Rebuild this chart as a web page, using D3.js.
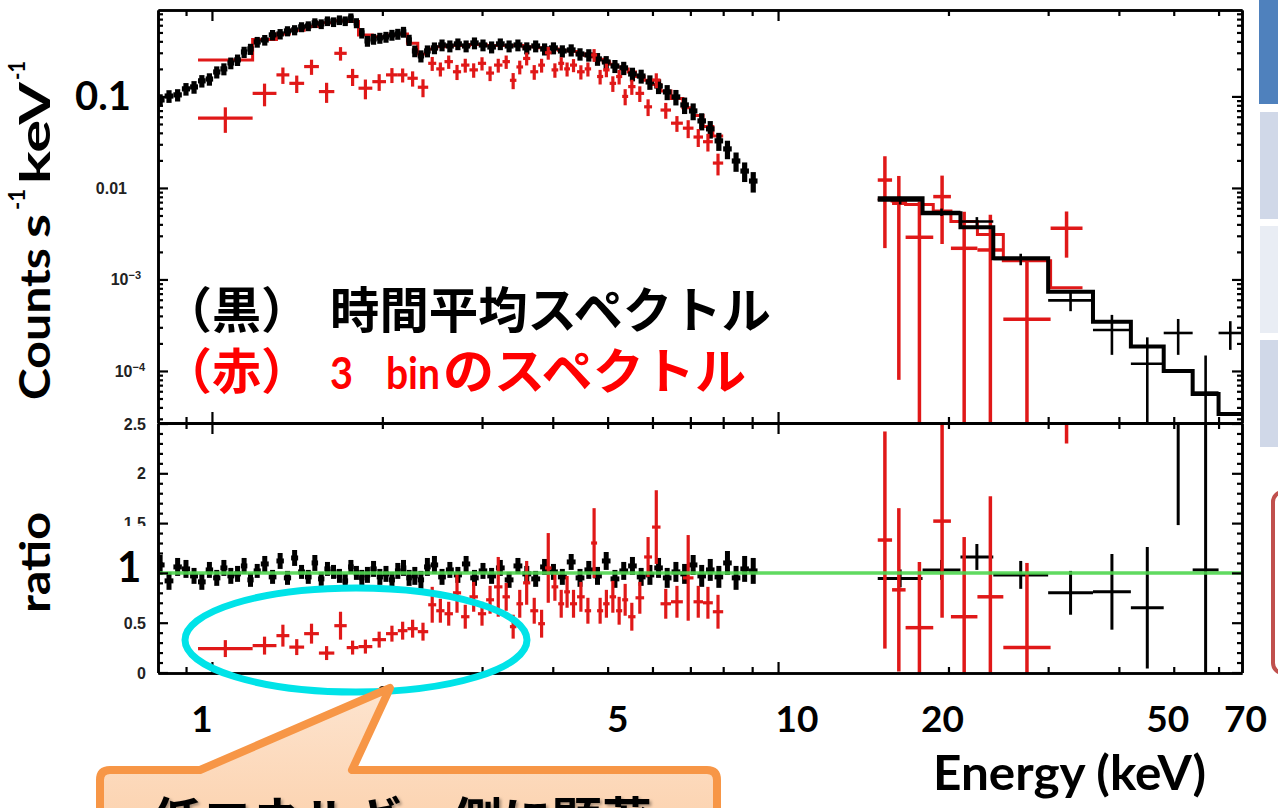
<!DOCTYPE html>
<html><head><meta charset="utf-8">
<script src="https://cdn.jsdelivr.net/npm/d3@7"></script>
<style>
html,body{margin:0;padding:0;background:#fff;}
svg{display:block;}
</style></head><body>
<svg id="chart" width="1278" height="808"></svg>
<script>
// ---------- time-averaged spectrum (black), 0.8-9 keV ----------
const blackSoftE = [0.81,0.84,0.87,0.90,0.93,0.96,0.99,1.02,1.05,1.08,1.11,1.14,1.17,1.20,1.24,1.28,1.32,1.36,1.40,1.44,1.48,1.52,1.56,1.60,1.64,1.68,1.72,1.76,1.80,1.84,1.88,1.93,1.98,2.03,2.08,2.13,2.18,2.23,2.28,2.34,2.40,2.47,2.55,2.63,2.72,2.81,2.91,3.01,3.12,3.23,3.35,3.47,3.60,3.73,3.87,4.01,4.16,4.31,4.47,4.63,4.80,4.97,5.15,5.34,5.53,5.73,5.94,6.15,6.37,6.60,6.84,7.08,7.33,7.59,7.86,8.14,8.43,8.73,9.04];
const blackSoftCounts = [0.0916,0.101,0.104,0.121,0.127,0.148,0.155,0.185,0.200,0.232,
  0.251,0.306,0.330,0.394,0.414,0.470,0.482,0.519,0.533,0.575,
  0.589,0.636,0.620,0.668,0.652,0.685,0.668,0.721,0.636,0.494,
  0.404,0.425,0.436,0.447,0.470,0.482,0.507,0.414,0.314,0.277,
  0.314,0.339,0.365,0.356,0.375,0.356,0.384,0.365,0.347,0.375,
  0.356,0.365,0.339,0.356,0.330,0.339,0.314,0.322,0.291,0.284,
  0.257,0.238,0.215,0.205,0.176,0.167,0.144,0.130,0.112,0.0987,
  0.0807,0.0694,0.054,0.0442,0.0327,0.0267,0.0197,0.0153,0.0119];
const blackSoftErr = [0.014,0.016,0.016,0.019,0.020,0.023,0.024,0.028,0.030,0.034,
  0.036,0.043,0.046,0.053,0.055,0.062,0.063,0.066,0.068,0.072,
  0.073,0.078,0.076,0.081,0.079,0.083,0.081,0.087,0.080,0.065,
  0.055,0.058,0.060,0.061,0.064,0.066,0.069,0.058,0.046,0.042,
  0.047,0.050,0.054,0.053,0.055,0.053,0.057,0.054,0.052,0.055,
  0.053,0.054,0.051,0.053,0.050,0.051,0.048,0.049,0.045,0.044,
  0.041,0.038,0.035,0.034,0.030,0.029,0.026,0.024,0.021,0.019,
  0.0165,0.0145,0.0115,0.0096,0.0073,0.0061,0.0047,0.0037,0.0030];
const blackSoftRatio = [1.08,0.92,1.06,1.04,0.97,0.91,1.03,0.95,1.05,0.97,
  0.99,1.07,0.93,1.02,1.09,0.96,1.12,0.95,1.15,1.01,
  0.96,1.10,0.94,1.04,1.01,0.97,0.92,1.06,1.00,0.95,
  0.98,1.04,0.96,0.99,0.93,1.02,1.05,0.95,0.97,0.93,
  1.06,1.08,0.96,1.03,0.98,1.09,0.95,1.02,0.97,1.05,
  0.93,1.07,0.99,0.94,1.06,1.01,0.96,1.11,0.95,1.03,
  0.97,1.12,0.94,1.02,1.07,0.96,0.98,1.05,0.95,1.01,
  0.99,1.08,0.97,1.03,0.96,1.10,0.95,1.04,1.02];
const blackSoftRatioErr = [0.10,0.09,0.09,0.09,0.08,0.08,0.08,0.08,0.08,0.08,
  0.08,0.08,0.07,0.07,0.08,0.07,0.08,0.07,0.08,0.07,
  0.07,0.08,0.07,0.07,0.07,0.07,0.07,0.07,0.07,0.08,
  0.08,0.08,0.08,0.08,0.08,0.08,0.08,0.08,0.09,0.09,
  0.09,0.09,0.08,0.08,0.08,0.08,0.08,0.08,0.08,0.08,
  0.08,0.08,0.08,0.08,0.08,0.08,0.08,0.08,0.09,0.09,
  0.09,0.09,0.09,0.09,0.09,0.09,0.10,0.10,0.10,0.10,
  0.10,0.10,0.11,0.11,0.11,0.12,0.12,0.13,0.13];

// ---------- time-averaged spectrum (black), 15-66 keV ----------
const blackHardEdges = [15,18,21,24,30,36,42,48,54,60,66];
const blackHardCounts = [0.0073,0.00545,0.0043,0.00167,0.00059,0.00028,0.00012,0.00026,0.000058,0.00026];
const blackHardErr = [0.0007,0.0005,0.0005,0.00024,0.00014,0.00013,0.000113,0.00011,0.00009,0.00009];
const blackHardModel = [0.00772,0.00529,0.00372,0.0017,0.000736,0.000346,0.000185,0.0001,0.000056,0.0000339];
const blackHardRatio = [0.945,1.03,1.16,0.98,0.80,0.81,0.65,2.6,1.03,7.6];
const blackHardRatioErr = [0.09,0.10,0.13,0.14,0.22,0.38,0.61,1.12,1.6,3.0];

// ---------- 3-bin spectrum (red), 0.95-8 keV ----------
const redSoftEdges = [0.945,1.18,1.30,1.37,1.455,1.545,1.645,1.73,1.815,1.92,2.03,2.13,2.215,2.31,2.41,
  2.49,2.575,2.665,2.755,2.85,2.95,3.05,3.15,3.26,3.36,3.45,3.545,3.65,3.77,3.875,3.98,4.09,4.19,4.29,
  4.415,4.555,4.675,4.79,4.91,5.04,5.175,5.305,5.435,5.6,5.8,5.99,6.2,6.47,6.79,7.09,7.37,7.67,8.0];
const redSoftCounts = [0.058,0.108,0.172,0.139,0.212,0.113,0.296,0.165,0.123,0.145,0.172,0.172,0.158,0.126,
  0.23,0.20,0.24,0.186,0.22,0.195,0.23,0.18,0.22,0.24,0.15,0.21,0.26,0.186,0.22,0.30,0.195,0.23,0.20,0.22,
  0.186,0.20,0.284,0.165,0.195,0.139,0.165,0.10,0.128,0.108,0.077,0.151,0.071,0.051,0.045,0.036,0.032,0.0187];
const redSoftErr = [0.018,0.030,0.035,0.030,0.040,0.028,0.050,0.035,0.030,0.030,0.032,0.030,0.030,0.028,
  0.040,0.035,0.040,0.035,0.038,0.035,0.038,0.033,0.038,0.040,0.030,0.036,0.042,0.034,0.038,0.048,0.035,0.038,0.035,0.036,
  0.033,0.035,0.045,0.030,0.033,0.027,0.030,0.020,0.024,0.021,0.016,0.028,0.014,0.010,0.010,0.008,0.007,0.005];
const redSoftModel = [0.25,0.42,0.48,0.53,0.58,0.64,0.67,0.66,0.47,0.45,0.47,0.48,0.38,0.29,
  0.33,0.35,0.36,0.36,0.36,0.37,0.37,0.36,0.36,0.36,0.36,0.36,0.35,0.35,0.34,0.335,0.33,0.32,0.315,0.31,
  0.29,0.28,0.27,0.255,0.24,0.225,0.21,0.20,0.185,0.165,0.15,0.135,0.115,0.095,0.075,0.062,0.047,0.037];
const redSoftRatio = [0.24,0.27,0.37,0.255,0.39,0.195,0.47,0.25,0.26,0.33,0.39,0.42,0.44,0.41,
  0.68,0.62,0.59,0.80,0.56,0.76,0.59,0.73,0.86,0.76,0.46,0.69,0.90,0.62,0.49,1.05,0.86,0.69,0.81,0.69,
  0.76,0.62,1.30,0.62,0.69,0.76,0.62,0.73,0.56,0.75,1.16,1.46,0.69,0.71,0.95,0.71,0.70,0.61];
const redSoftRatioErr = [0.085,0.09,0.11,0.08,0.10,0.07,0.14,0.07,0.07,0.08,0.08,0.09,0.09,0.09,
  0.18,0.12,0.12,0.20,0.12,0.15,0.12,0.14,0.30,0.14,0.12,0.14,0.22,0.13,0.14,0.35,0.14,0.14,0.16,0.14,
  0.15,0.13,0.35,0.13,0.14,0.16,0.14,0.16,0.14,0.16,0.20,0.37,0.15,0.16,0.43,0.16,0.16,0.17];

// ---------- 3-bin spectrum (red), 15-35 keV ----------
const redHardEdges = [15.0,15.9,16.8,18.8,20.2,22.5,25.0,30.3,34.5];
const redHardCounts = [0.0122,0.0068,0.00289,0.00804,0.00219,0.0021,0.000367,0.00363];
const redHardErr = [0.0100,0.00672,0.0042,0.0056,0.0033,0.0030,0.0012,0.0019];
const redHardModel = [0.0075,0.0072,0.0066,0.0056,0.0043,0.0031,0.0016,0.00081];
const redHardRatio = [1.33,0.83,0.45,1.52,0.56,0.76,0.25,4.5];
const redHardRatioErr = [1.09,0.82,0.66,0.97,0.80,1.01,0.85,2.2];

// ---------- axis ticks and labels ----------
const energyMajorTicks = [1, 10];
const energyMinorTicks = [0.9, 2, 3, 4, 5, 6, 7, 8, 9, 20, 30, 40, 50, 60];
const energyLabels = ["1", "5", "10", "20", "50", "70"];
const countMajorTicks = [1e-4, 1e-3, 1e-2, 0.1];
const countLabelVals = [0.01, 1e-3, 1e-4];
const countLabelBase = ["0.01", "10", "10"];
const countLabelExp = ["", "\u22123", "\u22124"];
const ratioMajorTicks = [0, 0.5, 1, 1.5, 2, 2.5];
const ratioLabelVals = [2.5, 2, 1.5, 0.5, 0];
const ratioLabels = ["2.5", "2", "1.5", "0.5", "0"];

const yTitleParts = ["Counts", "s", "-1", "keV", "-1"];
const legendBlack = ["（黒）", "時間平均スペクトル"];
const legendRed = ["（赤）", "3", "bin", "のスペクトル"];
const calloutText = "低エネルギー側に顕著";

// ---------- layout ----------
const svg = d3.select("#chart");
const F = {left: 158, right: 1242, top: 10, mid: 423, bottom: 673};
const x = d3.scaleLog().domain([0.803, 66]).range([F.left, F.right]);
const yC = d3.scaleLog().domain([0.88, 2.7e-5]).range([F.top, F.mid]);
const yR = d3.scaleLinear().domain([0, 2.5]).range([672.5, 423.5]);

const RED = "#e01818";
const BLACK = "#000";

const defs = svg.append("defs");
defs.append("clipPath").attr("id", "clipTop").append("rect")
  .attr("x", F.left).attr("y", F.top).attr("width", F.right - F.left).attr("height", F.mid - F.top);
defs.append("clipPath").attr("id", "clipBot").append("rect")
  .attr("x", F.left).attr("y", F.mid).attr("width", F.right - F.left).attr("height", F.bottom - F.mid);
const grad = defs.append("linearGradient").attr("id", "calloutFill").attr("x1", 0).attr("y1", 0).attr("x2", 0).attr("y2", 1);
grad.append("stop").attr("offset", "0%").attr("stop-color", "#fde4cf");
grad.append("stop").attr("offset", "100%").attr("stop-color", "#fcd2ae");
const shadow = defs.append("filter").attr("id", "txtShadow").attr("x", "-10%").attr("y", "-10%").attr("width", "120%").attr("height", "140%");
shadow.append("feDropShadow").attr("dx", 2).attr("dy", 2).attr("stdDeviation", 1.5).attr("flood-color", "#000").attr("flood-opacity", 0.35);

// bins from centres (geometric midpoints) or explicit edges
function binsFromCentres(E, v, e) {
  return E.map((c, i) => {
    const prev = i > 0 ? E[i - 1] : c * c / E[i + 1];
    const next = i < E.length - 1 ? E[i + 1] : c * c / E[i - 1];
    return {lo: Math.sqrt(prev * c), hi: Math.sqrt(c * next), v: v[i], e: e[i]};
  });
}
function binsFromEdges(edges, v, e, m) {
  return v.map((d, i) => ({lo: edges[i], hi: edges[i + 1], v: d, e: e ? e[i] : 0, m: m ? m[i] : null}));
}

function drawCrosses(g, bins, yS, floor, color, sw) {
  const sel = g.append("g").attr("stroke", color).attr("stroke-width", sw).attr("stroke-linecap", "butt");
  sel.selectAll(null).data(bins).enter().append("line")
    .attr("x1", d => x(d.lo)).attr("x2", d => x(d.hi))
    .attr("y1", d => yS(d.v)).attr("y2", d => yS(d.v));
  sel.selectAll(null).data(bins).enter().append("line")
    .attr("x1", d => x(Math.sqrt(d.lo * d.hi))).attr("x2", d => x(Math.sqrt(d.lo * d.hi)))
    .attr("y1", d => yS(d.v + d.e))
    .attr("y2", d => yS(Math.max(d.v - d.e, floor)));
}
function drawSteps(g, bins, yS, color, sw) {
  let p = "";
  bins.forEach((d, i) => {
    p += (i === 0 ? "M" + x(d.lo) + "," + yS(d.m) : "V" + yS(d.m)) + "H" + x(d.hi);
  });
  g.append("path").attr("d", p).attr("fill", "none").attr("stroke", color)
    .attr("stroke-width", sw).attr("stroke-linejoin", "miter");
}

// ---------- upper panel: counts ----------
const gTop = svg.append("g").attr("clip-path", "url(#clipTop)");
const redSoftModelBins = binsFromEdges(redSoftEdges, redSoftCounts, redSoftErr, redSoftModel);
const redHardModelBins = binsFromEdges(redHardEdges, redHardCounts, redHardErr, redHardModel);
drawSteps(gTop, redSoftModelBins, yC, RED, 3);
drawSteps(gTop, redHardModelBins, yC, RED, 3);
drawCrosses(gTop, binsFromCentres(blackSoftE, blackSoftCounts, blackSoftErr), yC, 1e-7, BLACK, 5.2);
drawCrosses(gTop, redSoftModelBins, yC, 1e-7, RED, 3.2);
drawCrosses(gTop, redHardModelBins, yC, 1e-7, RED, 3.5);
const blackHardBins = binsFromEdges(blackHardEdges, blackHardCounts, blackHardErr, blackHardModel);
drawCrosses(gTop, blackHardBins, yC, 1e-7, BLACK, 2.6);
drawSteps(gTop, blackHardBins, yC, BLACK, 4);

// ---------- lower panel: ratio ----------
const gBot = svg.append("g").attr("clip-path", "url(#clipBot)");
drawCrosses(gBot, binsFromCentres(blackSoftE, blackSoftRatio, blackSoftRatioErr), yR, -1, BLACK, 5);
drawCrosses(gBot, binsFromEdges(blackHardEdges, blackHardRatio, blackHardRatioErr), yR, -1, BLACK, 3);
drawCrosses(gBot, binsFromEdges(redSoftEdges, redSoftRatio, redSoftRatioErr), yR, -1, RED, 3.2);
drawCrosses(gBot, binsFromEdges(redHardEdges, redHardRatio, redHardRatioErr), yR, -1, RED, 3.5);
gBot.append("line").attr("x1", F.left).attr("x2", F.right).attr("y1", yR(1)).attr("y2", yR(1))
  .attr("stroke", "#4fd64f").attr("stroke-width", 3.5).attr("opacity", 0.9);

// ---------- frame and ticks ----------
function axis(gen, vals, len, tx, ty) {
  const g = svg.append("g").attr("transform", `translate(${tx},${ty})`)
    .call(gen.tickValues(vals).tickSizeInner(-len).tickSizeOuter(0).tickFormat(""));
  g.select(".domain").attr("stroke", "#000").attr("stroke-width", 2.6);
  g.selectAll(".tick line").attr("stroke", "#000").attr("stroke-width", 2.2);
  return g;
}
const countMinorTicks = [];
[1e-5, 1e-4, 1e-3, 1e-2, 0.1].forEach(dec => d3.range(2, 10).forEach(k => {
  const v = k * dec; if (v > 2.7e-5 && v < 0.88) countMinorTicks.push(v);
}));
const ratioMinorTicks = d3.range(0, 26).map(k => k / 10).filter(v => Math.round(v * 10) % 5 !== 0);

[[d3.axisTop(x), F.top], [d3.axisBottom(x), F.mid], [d3.axisTop(x), F.mid], [d3.axisBottom(x), F.bottom]]
  .forEach(([gen, y]) => {
    axis(gen, energyMinorTicks, 6, 0, y);
    axis(gen.scale(x), energyMajorTicks, 11, 0, y);
  });
axis(d3.axisLeft(yC), countMinorTicks, 5, F.left, 0);
axis(d3.axisLeft(yC), countMajorTicks, 10, F.left, 0);
axis(d3.axisRight(yC), countMinorTicks, 5, F.right, 0);
axis(d3.axisRight(yC), countMajorTicks, 10, F.right, 0);
axis(d3.axisLeft(yR), ratioMinorTicks, 5, F.left, 0);
axis(d3.axisLeft(yR), ratioMajorTicks, 10, F.left, 0);
axis(d3.axisRight(yR), ratioMinorTicks, 5, F.right, 0);
axis(d3.axisRight(yR), ratioMajorTicks, 10, F.right, 0);

// small plot labels
const smallFont = "'Liberation Sans', Arial, sans-serif";
const countRight = [127, 141, 145];
countLabelVals.forEach((v, i) => {
  const t = svg.append("text").attr("x", countRight[i]).attr("y", yC(v) + 6)
    .attr("text-anchor", "end").attr("font-family", smallFont).attr("font-weight", 700)
    .attr("font-size", 16).attr("fill", "#222");
  t.append("tspan").text(countLabelBase[i]);
  if (countLabelExp[i]) t.append("tspan").attr("dy", -6).attr("font-size", 11).text(countLabelExp[i]);
});
ratioLabelVals.forEach((v, i) => {
  svg.append("text").attr("x", 146).attr("y", yR(v) + 6)
    .attr("text-anchor", "end").attr("font-family", smallFont).attr("font-weight", 700)
    .attr("font-size", 16).attr("fill", "#222").text(ratioLabels[i]);
});
svg.append("text").attr("x", x(2)).attr("y", 698).attr("text-anchor", "middle")
  .attr("font-family", smallFont).attr("font-weight", 700).attr("font-size", 16).attr("fill", "#222").text("2");

// ---------- large slide labels ----------
const bigFont = "Lato, 'Open Sans', sans-serif";
svg.append("rect").attr("x", 96).attr("y", 526).attr("width", 54).attr("height", 72).attr("fill", "#fff");
svg.append("text").attr("x", 75).attr("y", yC(0.1) + 14).attr("font-family", bigFont).attr("font-weight", 700)
  .attr("font-size", 40).attr("fill", "#000").text("0.1");
svg.append("text").attr("x", 117).attr("y", yR(1) + 9).attr("font-family", bigFont).attr("font-weight", 700)
  .attr("font-size", 42).attr("fill", "#000").text("1");

// rotated axis titles, laid out piece by piece
function vText(str, bx, by, size, len) {
  const t = svg.append("text").attr("transform", `translate(${bx},${by}) rotate(-90)`)
    .attr("font-family", bigFont).attr("font-weight", 700).attr("font-size", size).attr("fill", "#000").text(str);
  if (len) t.attr("textLength", len).attr("lengthAdjust", "spacingAndGlyphs");
  return t;
}
vText(yTitleParts[0], 50, 400, 42, 152);
vText(yTitleParts[1], 50, 238, 42, 24);
vText(yTitleParts[2], 25, 210, 23, 21);
vText(yTitleParts[3], 50, 184, 42, 102);
vText(yTitleParts[4], 25, 80, 23, 19);
vText("ratio", 50, 613, 42, 101);

const energyNudge = [-10, 10, 19, -6, -6, -11];
energyLabels.forEach((s, i) => {
  svg.append("text").attr("x", x(+s) + energyNudge[i]).attr("y", 732).attr("text-anchor", "middle")
    .attr("font-family", bigFont).attr("font-weight", 700).attr("font-size", 37).attr("fill", "#000").text(s);
});
svg.append("text").attr("x", 933).attr("y", 790).attr("font-family", bigFont).attr("font-weight", 700)
  .attr("font-size", 47).attr("fill", "#000").attr("textLength", 273).attr("lengthAdjust", "spacingAndGlyphs")
  .text("Energy (keV)");

// legend
const cjk = "'Noto Sans CJK JP', 'Noto Sans CJK SC', sans-serif";
function legendText(str, xx, yy, color, len, font, size) {
  const t = svg.append("text").attr("x", xx).attr("y", yy).attr("font-family", font || cjk).attr("font-weight", 700)
    .attr("font-size", size || 49).attr("fill", color).text(str);
  if (len) t.attr("textLength", len).attr("lengthAdjust", "spacingAndGlyphs");
  return t;
}
legendText(legendBlack[0], 163, 328, "#000");
legendText(legendBlack[1], 330, 328, "#000", 441);
legendText(legendRed[0], 163, 389, "#ff0000");
legendText(legendRed[1], 330, 389, "#ff0000", 23, bigFont, 44);
legendText(legendRed[2], 386, 389, "#ff0000", 54, bigFont, 44);
legendText(legendRed[3], 443, 389, "#ff0000", 303);

// highlight ellipse
svg.append("ellipse").attr("cx", 356).attr("cy", 640).attr("rx", 171).attr("ry", 52)
  .attr("fill", "none").attr("stroke", "#00e3e8").attr("stroke-width", 7);

// callout
const cp = "M100,830 V780 Q100,770 110,770 H200 L390,688 L352,770 H707 Q717,770 717,780 V830 Z";
svg.append("path").attr("d", cp).attr("fill", "url(#calloutFill)").attr("stroke", "#f79646")
  .attr("stroke-width", 8).attr("stroke-linejoin", "round");
svg.append("text").attr("x", 152).attr("y", 839).attr("font-family", cjk).attr("font-weight", 700)
  .attr("font-size", 50).attr("fill", "#000").attr("filter", "url(#txtShadow)").text(calloutText);

// neighbouring slide elements at the right edge
svg.append("rect").attr("x", 1259).attr("y", 0).attr("width", 19).attr("height", 104).attr("fill", "#4f81bd");
[[112, "#d0d8e8"], [226, "#e9edf4"], [340, "#d0d8e8"]].forEach(([yy, c]) => {
  svg.append("rect").attr("x", 1260).attr("y", yy).attr("width", 18).attr("height", 107).attr("fill", c);
});
svg.append("rect").attr("x", 1273).attr("y", 492).attr("width", 30).attr("height", 181).attr("rx", 10)
  .attr("fill", "#fff").attr("stroke", "#c0504d").attr("stroke-width", 4);
</script>
</body></html>
